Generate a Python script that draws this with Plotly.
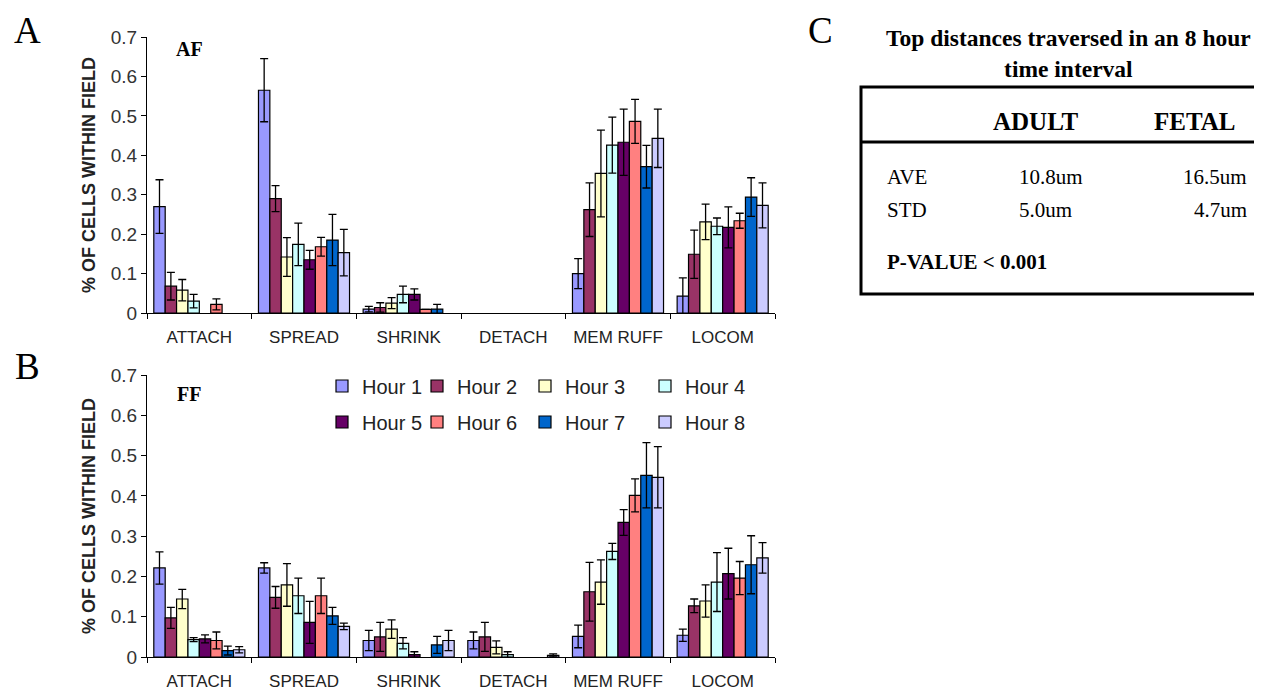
import plotly.graph_objects as go

categories = ["ATTACH", "SPREAD", "SHRINK", "DETACH", "MEM RUFF", "LOCOM"]
hours = ["Hour 1", "Hour 2", "Hour 3", "Hour 4", "Hour 5", "Hour 6", "Hour 7", "Hour 8"]
hour_colors = ["#9999FF", "#993366", "#FFFFCC", "#CCFFFF",
               "#660066", "#FF8080", "#0066CC", "#CCCCFF"]

# panel A (AF), one row per hour, columns follow categories
af_means = [
    [0.270, 0.565, 0.010, 0, 0.100, 0.043],
    [0.068, 0.290, 0.014, 0, 0.262, 0.149],
    [0.058, 0.142, 0.025, 0, 0.354, 0.231],
    [0.030, 0.174, 0.047, 0, 0.426, 0.220],
    [0.000, 0.135, 0.047, 0, 0.433, 0.217],
    [0.022, 0.168, 0.009, 0, 0.486, 0.234],
    [0.000, 0.185, 0.010, 0, 0.371, 0.294],
    [0.000, 0.153, 0.000, 0, 0.443, 0.273],
]
af_errs = [
    [0.068, 0.080, 0.007, 0, 0.038, 0.046],
    [0.035, 0.033, 0.012, 0, 0.068, 0.061],
    [0.027, 0.049, 0.014, 0, 0.110, 0.045],
    [0.017, 0.054, 0.021, 0, 0.071, 0.021],
    [0.000, 0.024, 0.014, 0, 0.084, 0.052],
    [0.014, 0.024, 0.000, 0, 0.056, 0.019],
    [0.000, 0.065, 0.012, 0, 0.054, 0.049],
    [0.000, 0.059, 0.000, 0, 0.074, 0.057],
]

# panel B (FF)
ff_means = [
    [0.221, 0.221, 0.041, 0.041, 0.051, 0.054],
    [0.097, 0.148, 0.050, 0.050, 0.162, 0.127],
    [0.144, 0.179, 0.069, 0.024, 0.186, 0.139],
    [0.043, 0.152, 0.034, 0.006, 0.262, 0.186],
    [0.045, 0.086, 0.006, 0.000, 0.334, 0.207],
    [0.041, 0.152, 0.000, 0.000, 0.401, 0.196],
    [0.016, 0.102, 0.030, 0.000, 0.451, 0.229],
    [0.018, 0.076, 0.041, 0.004, 0.446, 0.246],
]
ff_errs = [
    [0.040, 0.013, 0.025, 0.021, 0.028, 0.015],
    [0.026, 0.027, 0.036, 0.036, 0.073, 0.017],
    [0.024, 0.053, 0.023, 0.016, 0.055, 0.040],
    [0.005, 0.044, 0.014, 0.007, 0.020, 0.073],
    [0.010, 0.052, 0.007, 0.000, 0.032, 0.063],
    [0.021, 0.044, 0.000, 0.000, 0.041, 0.041],
    [0.011, 0.021, 0.021, 0.000, 0.081, 0.072],
    [0.008, 0.008, 0.025, 0.004, 0.076, 0.038],
]

# panel C table
table_title = "Top distances traversed in an 8 hour<br>time interval"
table_groups = ["ADULT", "FETAL"]
table_rows = ["AVE", "STD"]
adult_vals = ["10.8um", "5.0um"]
fetal_vals = ["16.5um", "4.7um"]
p_value_text = "P-VALUE < 0.001"

W, H = 1262, 690
OFF = 8  # page body margin
SERIF = "Liberation Serif"
SANS = "Liberation Sans"


def px(x):
    return (x - OFF) / W


def py(y):
    return 1 - (y - OFF) / H


def nz(vals):
    return [v if v else None for v in vals]


fig = go.Figure()

# legend columns (text start in px) - 4 small legends, two rows each
legend_cols = [362, 457, 565, 685]

for panel, (means, errs) in enumerate([(af_means, af_errs), (ff_means, ff_errs)]):
    for i, hour in enumerate(hours):
        col = i % 4
        fig.add_trace(go.Bar(
            x=categories,
            y=nz(means[i]),
            error_y=dict(type="data", array=nz(errs[i]), symmetric=True,
                         color="black", thickness=1.3, width=4),
            name=hour,
            marker=dict(color=hour_colors[i], line=dict(color="black", width=1.2)),
            xaxis="x" if panel == 0 else "x2",
            yaxis="y" if panel == 0 else "y2",
            showlegend=panel == 1,
            legendgroup=hour,
            legend="legend" if col == 0 else f"legend{col + 1}",
            hoverinfo="x+y+name",
        ))

axis_x = dict(
    domain=[px(147), px(775)],
    type="category",
    categoryorder="array",
    categoryarray=categories,
    automargin=False,
    showline=True, linecolor="black", linewidth=1.2,
    ticks="outside", tickson="boundaries", ticklen=5, tickcolor="black",
    ticklabelstandoff=8,
    tickfont=dict(family=SANS, size=17, color="#222"),
    showgrid=False, zeroline=False,
)
axis_y = dict(
    range=[0, 0.7],
    dtick=0.1,
    tickformat="~g",
    automargin=False,
    showline=True, linecolor="black", linewidth=1.2,
    ticks="outside", ticklen=5, tickcolor="black",
    tickfont=dict(family=SANS, size=19, color="#333"),
    showgrid=False, zeroline=False,
    title=dict(text="<b>% OF CELLS WITHIN FIELD</b>",
               font=dict(family=SANS, size=18, color="#222"), standoff=10),
)

legend_style = dict(
    orientation="v", xanchor="left", yanchor="middle", y=py(404),
    tracegroupgap=7, font=dict(family=SANS, size=20, color="#222"),
    bgcolor="rgba(0,0,0,0)", itemclick=False, itemdoubleclick=False,
)

fig.update_layout(
    width=W, height=H,
    margin=dict(l=0, r=0, t=0, b=0, autoexpand=False),
    plot_bgcolor="white", paper_bgcolor="white",
    barmode="group", bargap=0.13, bargroupgap=0,
    xaxis=dict(axis_x, anchor="y"),
    yaxis=dict(axis_y, domain=[py(313), py(37)], anchor="x"),
    xaxis2=dict(axis_x, anchor="y2"),
    yaxis2=dict(axis_y, domain=[py(657), py(375)], anchor="x2"),
    legend=dict(legend_style, x=px(legend_cols[0] - 40)),
    legend2=dict(legend_style, x=px(legend_cols[1] - 40)),
    legend3=dict(legend_style, x=px(legend_cols[2] - 40)),
    legend4=dict(legend_style, x=px(legend_cols[3] - 40)),
)

annotations = []


def label(x, y, text, size, family=SERIF, bold=False, xanchor="center", yanchor="middle"):
    annotations.append(dict(
        xref="paper", yref="paper", x=px(x), y=py(y),
        text=f"<b>{text}</b>" if bold else text,
        showarrow=False, xanchor=xanchor, yanchor=yanchor,
        font=dict(family=family, size=size, color="black"),
    ))


# panel letters and sub-titles
label(27, OFF, "A", 37, yanchor="top")
label(27, 366, "B", 37)
label(820, OFF, "C", 37, yanchor="top")
label(189, 49, "AF", 20, bold=True)
label(189, 394, "FF", 20, bold=True)

# panel C
annotations.append(dict(
    xref="paper", yref="paper", x=px(1068), y=py(54),
    text=f"<b>{table_title}</b>", showarrow=False, xanchor="center", yanchor="middle",
    font=dict(family=SERIF, size=23.5, color="black"),
))
label(1036, 121, table_groups[0], 25, bold=True)
label(1195, 121, table_groups[1], 25, bold=True)
for r, row in enumerate(table_rows):
    yy = 177 + r * 33
    label(885, yy, row, 21, xanchor="left")
    label(1017, yy, adult_vals[r], 21, xanchor="left")
    label(1249, yy, fetal_vals[r], 21, xanchor="right")
label(885, 262, p_value_text, 21, bold=True, xanchor="left")

fig.update_layout(annotations=annotations)

fig.update_layout(shapes=[
    dict(type="rect", xref="paper", yref="paper",
         x0=px(861), x1=px(1263), y0=py(294), y1=py(87),
         line=dict(color="black", width=3)),
    dict(type="line", xref="paper", yref="paper",
         x0=px(861), x1=px(1263), y0=py(142), y1=py(142),
         line=dict(color="black", width=3)),
])

fig.write_html("out.html")
